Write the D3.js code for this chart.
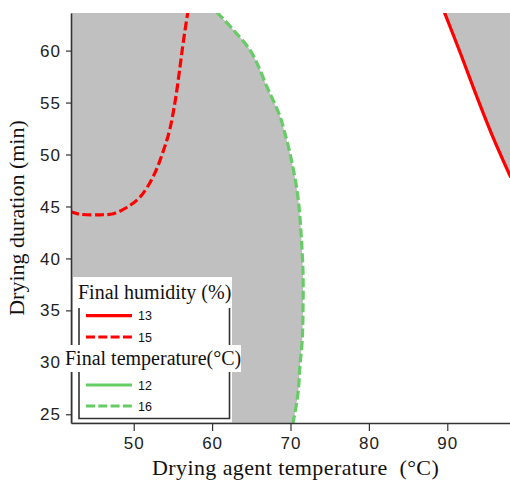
<!DOCTYPE html>
<html>
<head>
<meta charset="utf-8">
<script src="https://cdn.jsdelivr.net/npm/d3@7"></script>
<style>
  html, body { margin: 0; padding: 0; background: #fff; }
  svg { display: block; }
</style>
</head>
<body>
<svg id="chart" width="510" height="480"></svg>
<script>
// ---- Data ----
// x: drying agent temperature (°C), y: drying duration (min)
const humidity13 = [[89.6, 63.75], [91.75, 59.6], [93.7, 55.7], [95.7, 51.9], [98.1, 47.8]];
const humidity15 = [[41.9, 44.5], [43.15, 44.25], [45.7, 44.2], [47.4, 44.3], [49.1, 44.9], [50.8, 45.9], [52.5, 47.9], [53.8, 50.4], [54.6, 52.4], [55.3, 55.2], [55.9, 58.4], [56.3, 60.7], [56.9, 63.7]];
const temperature12 = [];
const temperature16 = [[60.6, 63.7], [62.7, 62.0], [64.8, 60.1], [65.9, 58.5], [67.0, 56.5], [67.8, 55.2], [68.7, 53.6], [69.3, 52.0], [69.85, 50.4], [70.3, 48.8], [70.7, 47.2], [71.0, 45.6], [71.2, 44.0], [71.4, 41.8], [71.6, 38.6], [71.6, 35.4], [71.5, 32.2], [71.2, 29.6], [71.0, 27.3], [70.7, 25.7], [70.3, 24.1]];
const xTicks = [50, 60, 70, 80, 90];
const yTicks = [25, 30, 35, 40, 45, 50, 55, 60];
const xDomain = [42, 98];
const yDomain = [24.16, 63.62];
const humidityLabels = ["13", "15"];
const temperatureLabels = ["12", "16"];

// ---- Layout ----
const svg = d3.select("#chart");
const L = 71, R = 510, T = 13, B = 423;
const x = d3.scaleLinear().domain(xDomain).range([L, R]);
const y = d3.scaleLinear().domain(yDomain).range([B, T]);

svg.append("rect").attr("width", 510).attr("height", 480).attr("fill", "#fff");

svg.append("clipPath").attr("id", "plotclip")
  .append("rect").attr("x", L).attr("y", T).attr("width", R - L).attr("height", B - T);

const plot = svg.append("g").attr("clip-path", "url(#plotclip)");

const GRAY = "#c0c0c0", RED = "#ff0000", GREEN = "#66cc66";

const line = d3.line().x(d => x(d[0])).y(d => y(d[1])).curve(d3.curveCatmullRom.alpha(0.5));

// Gray feasible regions built from the curves
const [x0, x1] = xDomain, [y0, y1] = yDomain;
plot.append("path").attr("d", line(temperature16) + "L" + x(x0 - 1) + "," + y(y0 - 1) + "L" + x(x0 - 1) + "," + y(y1 + 1) + "Z").attr("fill", GRAY);
plot.append("path").attr("d", line(humidity13) + "L" + x(x1 + 1) + "," + y(humidity13[humidity13.length - 1][1]) + "L" + x(x1 + 1) + "," + y(y1 + 1) + "L" + x(humidity13[0][0]) + "," + y(y1 + 1) + "Z").attr("fill", GRAY);

// Curves
const series = [
  { data: humidity13, color: RED, dash: null },
  { data: humidity15, color: RED, dash: "9,3.5" },
  { data: temperature12, color: GREEN, dash: null },
  { data: temperature16, color: GREEN, dash: "9,3.5" }
];
series.forEach(s => {
  if (!s.data.length) return;
  plot.append("path").attr("d", line(s.data)).attr("fill", "none")
    .attr("stroke", s.color).attr("stroke-width", 3.2)
    .attr("stroke-dasharray", s.dash);
});

// Axes
const AX = "#333";
const xAxis = svg.append("g").attr("transform", `translate(0,${B})`)
  .call(d3.axisBottom(x).tickValues(xTicks).tickSize(8).tickSizeOuter(0));
xAxis.select(".domain").attr("stroke", AX).attr("stroke-width", 1.6);
xAxis.selectAll(".tick line").attr("stroke", AX).attr("stroke-width", 1.2);
xAxis.selectAll(".tick text").attr("y", 26).attr("dy", 0)
  .attr("font-family", "Liberation Sans, Arial, sans-serif").attr("font-size", 17)
  .attr("letter-spacing", 1).attr("fill", "#222");

const yAxis = svg.append("g").attr("transform", `translate(${L},0)`)
  .call(d3.axisLeft(y).tickValues(yTicks).tickSize(5).tickSizeOuter(0));
yAxis.select(".domain").attr("stroke", AX).attr("stroke-width", 1.6);
yAxis.selectAll(".tick line").attr("stroke", AX).attr("stroke-width", 1.2);
yAxis.selectAll(".tick text").attr("x", -10).attr("dy", "0.33em")
  .attr("font-family", "Liberation Sans, Arial, sans-serif").attr("font-size", 17)
  .attr("letter-spacing", 1).attr("fill", "#222");

// Axis titles
svg.append("text").attr("x", 152).attr("y", 475)
  .attr("font-family", "Liberation Serif, Times New Roman, serif").attr("font-size", 22)
  .attr("letter-spacing", 0.4).style("white-space", "pre").attr("fill", "#111")
  .text("Drying agent temperature  (°C)");
svg.append("text").attr("transform", "translate(24,218) rotate(-90)").attr("text-anchor", "middle")
  .attr("font-family", "Liberation Serif, Times New Roman, serif").attr("font-size", 22)
  .attr("fill", "#111").text("Drying duration (min)");

// Legend
const lg = svg.append("g");
lg.append("rect").attr("x", 73).attr("y", 277).attr("width", 159).attr("height", B - 277 - 0.8).attr("fill", "#fff");
lg.append("path").attr("d", "M79,308V418.5H229.5V308").attr("fill", "none").attr("stroke", AX).attr("stroke-width", 1.6);
const serif = "Liberation Serif, Times New Roman, serif";
lg.append("text").attr("x", 78).attr("y", 299).attr("font-family", serif).attr("font-size", 20).attr("fill", "#111").text("Final humidity (%)");
lg.append("rect").attr("x", 63).attr("y", 345).attr("width", 178).attr("height", 27).attr("fill", "#fff");
lg.append("text").attr("x", 65).attr("y", 365).attr("font-family", serif).attr("font-size", 20).attr("fill", "#111").text("Final temperature(°C)");

const items = [
  { label: humidityLabels[0], color: RED, dash: null, yy: 315.7 },
  { label: humidityLabels[1], color: RED, dash: "9,3.3", yy: 337 },
  { label: temperatureLabels[0], color: GREEN, dash: null, yy: 385 },
  { label: temperatureLabels[1], color: GREEN, dash: "9,3.3", yy: 406 }
];
items.forEach(it => {
  lg.append("line").attr("x1", 86).attr("x2", 132).attr("y1", it.yy).attr("y2", it.yy)
    .attr("stroke", it.color).attr("stroke-width", 3.2).attr("stroke-dasharray", it.dash);
  lg.append("text").attr("x", 138).attr("y", it.yy + 4.6)
    .attr("font-family", "Liberation Sans, Arial, sans-serif").attr("font-size", 12.5)
    .attr("fill", "#111").text(it.label);
});
</script>
</body>
</html>
